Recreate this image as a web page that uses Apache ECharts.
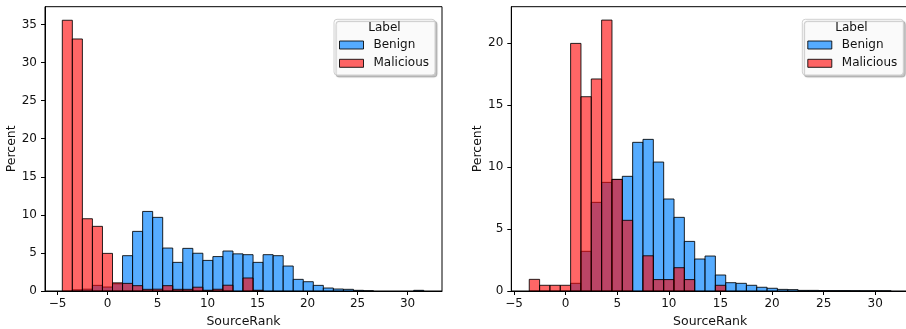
<!DOCTYPE html>
<html>
<head>
<meta charset="utf-8">
<script src="https://cdn.jsdelivr.net/npm/echarts@6/dist/echarts.min.js"></script>
<style>
html,body{margin:0;padding:0;background:#fff;}
#chart{width:906px;height:329px;}
</style>
</head>
<body>
<div id="chart"></div>
<script>
// ---- data ----
const seriesNames = ['Benign', 'Malicious'];
const legendTitle = 'Label';
const xAxisName = 'SourceRank';
const yAxisName = 'Percent';

// left panel: 36 bins starting at -4.53, width 1.004
const leftBinStart = -4.53;
const leftBinWidth = 1.004;
const leftBenign = [0, 0.15, 0.24, 0.74, 0.52, 0.95, 4.64, 7.83, 10.45, 9.67, 5.64, 3.76,
  5.6, 4.96, 4.02, 4.52, 5.25, 4.88, 4.77, 3.76, 4.77, 4.64, 3.28, 1.53,
  1.22, 0.74, 0.39, 0.26, 0.22, 0.09, 0.02, 0, 0, 0, 0, 0.09];
const leftMalicious = [35.56, 33.1, 9.49, 8.49, 4.94, 1.07, 1.0, 0.7, 0.22, 0.24, 0.7, 0.22,
  0.22, 0.5, 0.1, 0.23, 0.76, 0, 1.71, 0.1, 0, 0, 0, 0,
  0, 0, 0, 0, 0, 0, 0, 0, 0, 0, 0, 0];

// right panel: 35 bins starting at -3.53, width 1.002
const rightBinStart = -3.53;
const rightBinWidth = 1.002;
const rightBenign = [0, 0, 0, 0, 0.62, 3.2, 7.15, 8.76, 9.0, 9.25, 11.99, 12.23,
  10.4, 7.42, 5.94, 4.0, 2.58, 2.82, 1.29, 0.67, 0.62, 0.46, 0.3, 0.22,
  0.13, 0.11, 0.05, 0.05, 0.03, 0.03, 0.03, 0.02, 0.01, 0.01, 0.01];
const rightMalicious = [0.94, 0.46, 0.46, 0.46, 19.97, 15.67, 17.1, 21.85, 9.0, 5.7, 0, 2.84,
  0.92, 0.92, 1.88, 0.92, 0, 0, 0.46, 0, 0, 0, 0, 0,
  0, 0, 0, 0, 0, 0, 0, 0, 0, 0, 0];

const leftXTicks = [-5, 0, 5, 10, 15, 20, 25, 30];
const leftYTicks = [0, 5, 10, 15, 20, 25, 30, 35];
const rightXTicks = [-5, 0, 5, 10, 15, 20, 25, 30];
const rightYTicks = [0, 5, 10, 15, 20];

// ---- styles ----
const FONT = 'DejaVu Sans';
const blueFill = 'rgba(30,144,255,0.75)';
const redFill = 'rgba(255,0,0,0.6)';
const edge = 'rgba(0,0,0,0.85)';
const txt = '#111';

function binData(start, width, values) {
  return values.map((v, i) => [start + i * width, start + (i + 1) * width, v]);
}

function histSeries(name, idx, start, width, values, fill, z) {
  return {
    type: 'custom',
    name: name,
    xAxisIndex: idx,
    yAxisIndex: idx,
    z: z,
    data: binData(start, width, values),
    encode: { x: [0, 1], y: 2 },
    itemStyle: { color: fill, borderColor: edge, borderWidth: 1 },
    renderItem: function (params, api) {
      const v = api.value(2);
      if (!(v > 0)) return null;
      const p0 = api.coord([api.value(0), v]);
      const p1 = api.coord([api.value(1), 0]);
      return {
        type: 'rect',
        shape: { x: p0[0], y: p0[1], width: p1[0] - p0[0], height: p1[1] - p0[1] },
        style: { fill: fill, stroke: edge, lineWidth: 1 }
      };
    }
  };
}

const fmt = v => (v < 0 ? '\u2212' + Math.abs(v) : String(v));

function xAxisCfg(idx, min, max, ticks) {
  return {
    type: 'value', gridIndex: idx, min: min, max: max,
    name: xAxisName, nameLocation: 'middle', nameGap: 21,
    nameTextStyle: { fontFamily: FONT, fontSize: 12.5, color: txt },
    axisLine: { show: true, onZero: false, lineStyle: { color: '#000', width: 1 } },
    axisTick: { show: true, length: 4, customValues: ticks, lineStyle: { color: '#000' } },
    axisLabel: { customValues: ticks, formatter: fmt, margin: 7, fontFamily: FONT, fontSize: 12, color: txt },
    splitLine: { show: false }
  };
}
function yAxisCfg(idx, max, ticks) {
  return {
    type: 'value', gridIndex: idx, min: 0, max: max,
    name: yAxisName, nameLocation: 'middle', nameGap: 27, nameRotate: 90,
    nameTextStyle: { fontFamily: FONT, fontSize: 12.5, color: txt },
    axisLine: { show: true, onZero: false, lineStyle: { color: '#000', width: 1 } },
    axisTick: { show: true, length: 4, customValues: ticks, lineStyle: { color: '#000' } },
    axisLabel: { customValues: ticks, formatter: fmt, margin: 8, fontFamily: FONT, fontSize: 12, color: txt },
    splitLine: { show: false }
  };
}

function legendCfg(left, top) {
  return {
    orient: 'vertical', left: left, top: top,
    icon: 'rect', itemWidth: 24, itemHeight: 8, itemGap: 4.3,
    padding: [18.7, 6, 4.7, 5],
    backgroundColor: 'rgba(255,255,255,0.9)',
    borderColor: '#d0d0d0', borderWidth: 1, borderRadius: 3,
    shadowColor: 'rgba(0,0,0,0.25)', shadowBlur: 1, shadowOffsetX: 2, shadowOffsetY: 2,
    selectedMode: false,
    textStyle: { fontFamily: FONT, fontSize: 12, color: txt, lineHeight: 14, padding: [0, 0, 0, 5] },
    data: [
      { name: seriesNames[0], itemStyle: { color: blueFill, borderColor: edge, borderWidth: 1 } },
      { name: seriesNames[1], itemStyle: { color: redFill, borderColor: edge, borderWidth: 1 } }
    ]
  };
}

const chart = echarts.init(document.getElementById('chart'), null, { renderer: 'canvas' });
chart.setOption({
  animation: false,
  backgroundColor: '#fff',
  grid: [
    { left: 45, right: 464, top: 6.7, bottom: 38, outerBoundsMode: 'none', containLabel: false, show: true, borderColor: '#000', borderWidth: 1, backgroundColor: 'transparent' },
    { left: 511.3, right: -3, top: 6.7, bottom: 38, outerBoundsMode: 'none', containLabel: false, show: true, borderColor: '#000', borderWidth: 1, backgroundColor: 'transparent' }
  ],
  xAxis: [
    xAxisCfg(0, -6.26, 33.44, leftXTicks),
    xAxisCfg(1, -5.27, 33.27, rightXTicks)
  ],
  yAxis: [
    yAxisCfg(0, 37.34, leftYTicks),
    yAxisCfg(1, 22.93, rightYTicks)
  ],
  legend: [legendCfg(334, 19.3), legendCfg(802.3, 19.3)],
  graphic: [
    { type: 'text', z: 100, x: 384.5, y: 28.3, style: { text: legendTitle, font: '12px "DejaVu Sans"', fill: txt, textAlign: 'center', textVerticalAlign: 'middle' } },
    { type: 'text', z: 100, x: 851.5, y: 28.3, style: { text: legendTitle, font: '12px "DejaVu Sans"', fill: txt, textAlign: 'center', textVerticalAlign: 'middle' } }
  ],
  series: [
    histSeries(seriesNames[0], 0, leftBinStart, leftBinWidth, leftBenign, blueFill, 2),
    histSeries(seriesNames[1], 0, leftBinStart, leftBinWidth, leftMalicious, redFill, 3),
    histSeries(seriesNames[0], 1, rightBinStart, rightBinWidth, rightBenign, blueFill, 2),
    histSeries(seriesNames[1], 1, rightBinStart, rightBinWidth, rightMalicious, redFill, 3)
  ]
});
</script>
</body>
</html>
